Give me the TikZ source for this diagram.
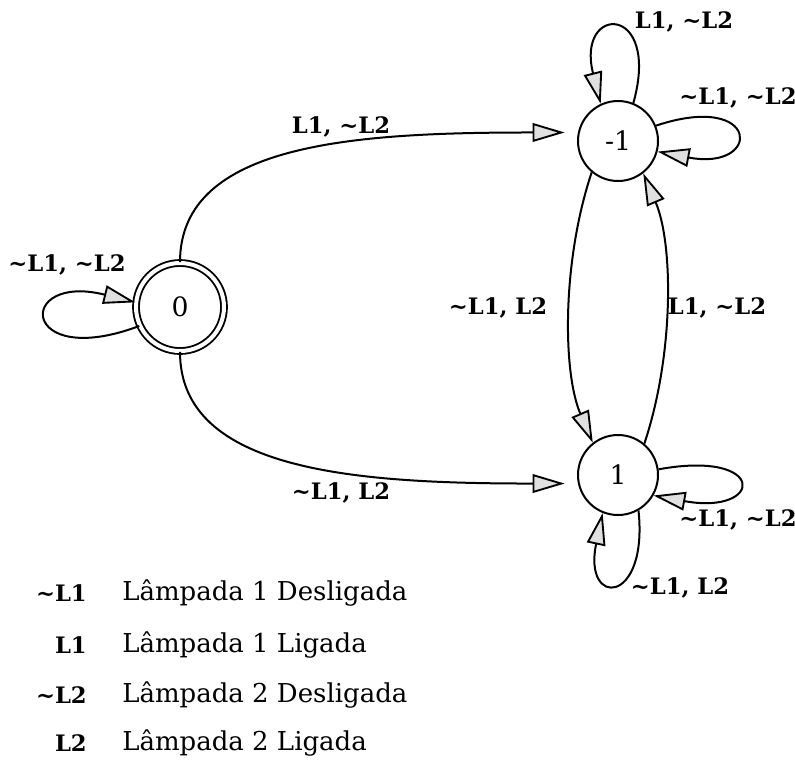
\documentclass[tikz,border=0pt]{standalone}
\usepackage{fontspec}
\setmainfont{DejaVu Serif}
\usetikzlibrary{arrows.meta}
\newcommand{\nao}[1]{\textasciitilde#1}

\begin{document}
\begin{tikzpicture}[
  x=0.75pt, y=-0.75pt,
  state/.style={circle, draw, line width=1.5pt, minimum size=60pt, inner sep=0pt, font=\fontsize{20}{24}\selectfont},
  accept/.style={state, double, double distance=3pt, line width=1.4pt, minimum size=66pt},
  lbl/.style={font=\fontsize{17}{20}\selectfont\bfseries, inner sep=1pt},
  key/.style={font=\fontsize{17}{20}\selectfont\bfseries, anchor=east, inner sep=0pt},
  desc/.style={font=\fontsize{19.5}{22}\selectfont, anchor=west, inner sep=0pt},
  edge/.style={line width=1.5pt, -{Triangle[length=24pt, width=14pt, fill=black!12, line width=1.4pt]}}
]
  \useasboundingbox (0,0) rectangle (795,765);

  \node[accept] (q0) at (180,307) {0};
  \node[state] (qm1) at (618,141) {-1};
  \node[state] (q1) at (618,475) {1};

  % transicoes a partir de 0
  \draw[edge, shorten >=10pt] (q0.north) .. controls +(0,-120) and +(-220,0) .. (qm1.168);
  \draw[edge, shorten >=10pt] (q0.south) .. controls +(0,120) and +(-220,0) .. (q1.192);
  \draw[edge] (q0.205) .. controls +(-120,45) and +(-120,-30) .. (q0.174);

  % transicoes entre -1 e 1
  \draw[edge] (qm1.230) .. controls +(-30,90) and +(-30,-70) .. (q1.128);
  \draw[edge] (q1.50) .. controls +(30,-90) and +(30,70) .. (qm1.-52);

  % lacos
  \draw[edge] (qm1.68) .. controls +(28,-100) and +(-25,-100) .. (qm1.115);
  \draw[edge] (qm1.22) .. controls +(105,-35) and +(105,20) .. (qm1.-15);
  \draw[edge] (q1.8) .. controls +(110,-20) and +(110,20) .. (q1.-30);
  \draw[edge] (q1.-60) .. controls +(10,95) and +(-20,95) .. (q1.-112);

  \node[lbl] (l01) at (341,127) {L1, \nao{L2}};
  \node[lbl] (l02) at (341,493) {\nao{L1}, L2};
  \node[lbl] (l00) at (67,265) {\nao{L1}, \nao{L2}};
  \node[lbl] (lm1a) at (684,22) {L1, \nao{L2}};
  \node[lbl] (lm1b) at (738,98) {\nao{L1}, \nao{L2}};
  \node[lbl] (lm11) at (498,308) {\nao{L1}, L2};
  \node[lbl] (l1m1) at (717,308) {L1, \nao{L2}};
  \node[lbl] (l1a) at (738,520) {\nao{L1}, \nao{L2}};
  \node[lbl] (l1b) at (680,588) {\nao{L1}, L2};

  % legenda
  \node[key] (k1) at (87,593) {\nao{L1}};
  \node[desc] (d1) at (122,593) {Lâmpada 1 Desligada};
  \node[key] (k2) at (87,645) {L1};
  \node[desc] (d2) at (122,645) {Lâmpada 1 Ligada};
  \node[key] (k3) at (87,695) {\nao{L2}};
  \node[desc] (d3) at (122,695) {Lâmpada 2 Desligada};
  \node[key] (k4) at (87,743) {L2};
  \node[desc] (d4) at (122,743) {Lâmpada 2 Ligada};
\end{tikzpicture}
\end{document}
